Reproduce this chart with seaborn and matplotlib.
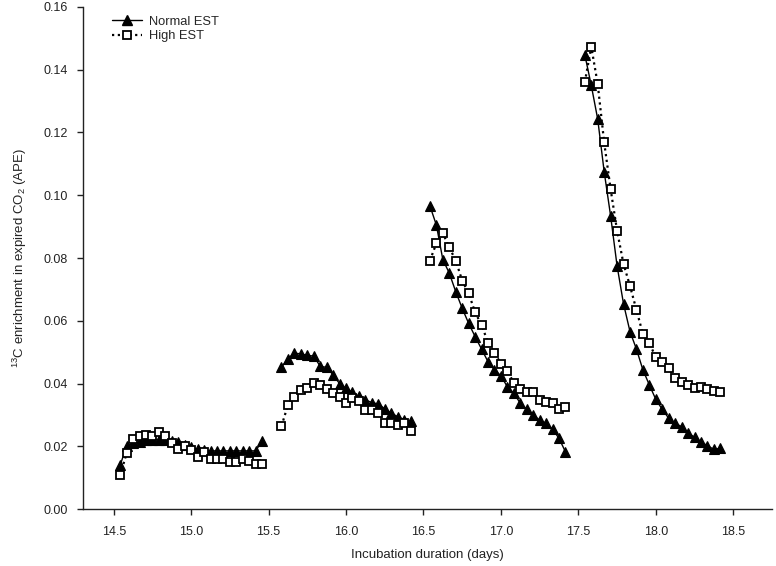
import numpy as np
import pandas as pd
import matplotlib
matplotlib.use("Agg")
import matplotlib.pyplot as plt
from matplotlib.lines import Line2D
import seaborn as sns

# Sampling: hourly; each incubation segment begins at a given day value
seg_start = [14 + 13/24, 15 + 14/24, 16 + 13/24, 17 + 13/24]

normal_vals = [
    [0.0140, 0.0202, 0.0210, 0.0215, 0.0220, 0.0220, 0.0222, 0.0222, 0.0218, 0.0215,
     0.0205, 0.0198, 0.0192, 0.0188, 0.0186, 0.0186, 0.0186, 0.0186, 0.0186, 0.0186,
     0.0186, 0.0186, 0.0218],
    [0.0452, 0.0480, 0.0497, 0.0495, 0.0490, 0.0488, 0.0455, 0.0452, 0.0428, 0.0400,
     0.0385, 0.0372, 0.0360, 0.0348, 0.0340, 0.0335, 0.0320, 0.0306, 0.0295, 0.0285,
     0.0281],
    [0.0966, 0.0905, 0.0795, 0.0752, 0.0693, 0.0640, 0.0592, 0.0550, 0.0510, 0.0470,
     0.0444, 0.0425, 0.0390, 0.0369, 0.0338, 0.0318, 0.0300, 0.0284, 0.0274, 0.0255,
     0.0226, 0.0183],
    [0.1447, 0.1350, 0.1242, 0.1075, 0.0934, 0.0775, 0.0654, 0.0566, 0.0510, 0.0444,
     0.0396, 0.0350, 0.0318, 0.0290, 0.0274, 0.0263, 0.0244, 0.0229, 0.0215, 0.0202,
     0.0191, 0.0194],
]

high_vals = [
    [0.0109, 0.0178, 0.0223, 0.0233, 0.0237, 0.0233, 0.0246, 0.0233, 0.0210, 0.0191,
     0.0202, 0.0190, 0.0168, 0.0183, 0.0159, 0.0159, 0.0159, 0.0150, 0.0150, 0.0160,
     0.0155, 0.0144, 0.0144],
    [0.0265, 0.0332, 0.0359, 0.0380, 0.0385, 0.0403, 0.0395, 0.0382, 0.0369, 0.0359,
     0.0340, 0.0354, 0.0344, 0.0316, 0.0316, 0.0308, 0.0276, 0.0276, 0.0268, 0.0276,
     0.0250],
    [0.0792, 0.0847, 0.0879, 0.0834, 0.0792, 0.0728, 0.0688, 0.0627, 0.0587, 0.0531,
     0.0499, 0.0463, 0.0440, 0.0403, 0.0382, 0.0375, 0.0375, 0.0348, 0.0343, 0.0340,
     0.0319, 0.0325],
    [0.1360, 0.1473, 0.1354, 0.1168, 0.1019, 0.0887, 0.0781, 0.0711, 0.0635, 0.0558,
     0.0529, 0.0484, 0.0470, 0.0449, 0.0417, 0.0406, 0.0396, 0.0385, 0.0390, 0.0382,
     0.0378, 0.0373],
]

series_names = ["Normal EST", "High EST"]
x_ticks = [14.5, 15.0, 15.5, 16.0, 16.5, 17.0, 17.5, 18.0, 18.5]
y_ticks = [0.00, 0.02, 0.04, 0.06, 0.08, 0.10, 0.12, 0.14, 0.16]


def build(vals, name):
    rows = []
    for s, (start, v) in enumerate(zip(seg_start, vals)):
        for i, val in enumerate(v):
            rows.append({"day": start + i / 24, "ape": val, "segment": s, "series": name})
    return pd.DataFrame(rows)


df_n = build(normal_vals, series_names[0])
df_h = build(high_vals, series_names[1])

sns.set_style("ticks")
plt.rcParams["font.family"] = ["Liberation Sans", "DejaVu Sans"]
plt.rcParams["mathtext.fontset"] = "custom"
plt.rcParams["mathtext.rm"] = "Liberation Sans"
plt.rcParams["mathtext.it"] = "Liberation Sans:italic"

fig = plt.figure(figsize=(7.76, 5.66), dpi=100)
ax = fig.add_axes([0.1066, 0.1002, 0.8882, 0.8878])

sns.lineplot(data=df_n, x="day", y="ape", units="segment", estimator=None, sort=False,
             ax=ax, color="black", lw=1.0, linestyle="-", marker="^", markersize=7,
             markerfacecolor="black", markeredgecolor="black", markeredgewidth=0.8,
             legend=False, zorder=2)
sns.lineplot(data=df_h, x="day", y="ape", units="segment", estimator=None, sort=False,
             ax=ax, color="black", lw=1.6, linestyle=(0, (1, 1.6)), marker="s", markersize=6.3,
             markerfacecolor="white", markeredgecolor="black", markeredgewidth=1.3,
             legend=False, zorder=3)

ax.set_xlim(14.3, 18.75)
ax.set_ylim(0, 0.16)
ax.set_xticks(x_ticks)
ax.set_xticklabels([f"{t:.1f}" for t in x_ticks])
ax.set_yticks(y_ticks)
ax.set_yticklabels([f"{t:.2f}" for t in y_ticks])
ax.tick_params(axis="both", labelsize=9, length=4.3, width=1, colors="#222222",
               labelcolor="#222222", direction="out")
ax.tick_params(axis="x", pad=8.0)
ax.tick_params(axis="y", pad=6.2)
for side in ["top", "right"]:
    ax.spines[side].set_visible(False)
for side in ["left", "bottom"]:
    ax.spines[side].set_linewidth(1.0)
    ax.spines[side].set_color("#222222")

ax.set_xlabel("Incubation duration (days)", fontsize=9.5, labelpad=8, color="#222222")
ax.set_ylabel(r"$^{13}$C enrichment in expired CO$_2$ (APE)", fontsize=9.5, labelpad=10.5,
              color="#222222")

handles = [
    Line2D([], [], color="black", lw=1.0, linestyle="-", marker="^", markersize=7,
           markerfacecolor="black", markeredgecolor="black"),
    Line2D([], [], color="black", lw=1.6, linestyle=(0, (1, 1.6)), marker="s", markersize=6.3,
           markerfacecolor="white", markeredgecolor="black", markeredgewidth=1.3),
]
ax.legend(handles, series_names, loc="upper left", bbox_to_anchor=(0.026, 1.005),
          frameon=False, fontsize=9.25, handlelength=2.3, labelspacing=0.2,
          handletextpad=0.55, numpoints=1)

fig.savefig("out.png", dpi=100)
